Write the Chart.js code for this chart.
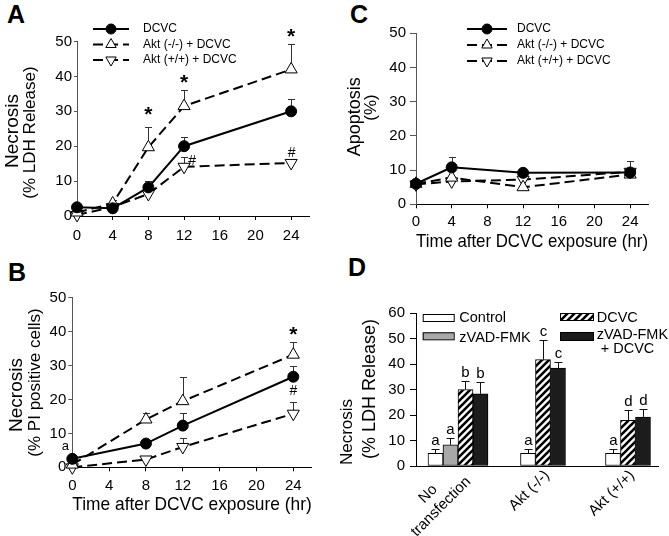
<!DOCTYPE html>
<html>
<head>
<meta charset="utf-8">
<script src="https://cdn.jsdelivr.net/npm/chart.js@4.4.1/dist/chart.umd.min.js"></script>
<style>
body{margin:0;background:#fff;width:669px;height:536px;position:relative;overflow:hidden;font-family:"Liberation Sans",Arial,sans-serif}
canvas{position:absolute}
.lab{position:absolute;font-weight:bold;font-size:25px;line-height:1}
</style>
</head>
<body>
<div class="lab" style="left:7px;top:2px">A</div>
<div class="lab" style="left:8px;top:260px">B</div>
<div class="lab" style="left:350px;top:2px">C</div>
<div class="lab" style="left:348px;top:255px">D</div>
<canvas id="cA" width="330" height="245" style="left:0;top:0"></canvas>
<canvas id="cB" width="330" height="286" style="left:0;top:250px"></canvas>
<canvas id="cC" width="339" height="254" style="left:330px;top:0"></canvas>
<canvas id="cD" width="339" height="286" style="left:330px;top:250px"></canvas>
<script>
// series names
var seriesNames = ['DCVC', 'Akt (-/-) + DCVC', 'Akt (+/+) + DCVC'];
var ticksT = [0, 4, 8, 12, 16, 20, 24];

// A - necrosis, LDH release
var timeA = [0, 4, 8, 12, 24];
var ldhDcvc = [2.5, 2.2, 8.2, 20, 30];
var ldhDcvcErr = [0, 0, 1.8, 2.7, 3.4];
var ldhKo = [1, 3.6, 19.7, 31.5, 42];
var ldhKoErr = [0, 1, 5.9, 4.6, 7.3];
var ldhWt = [0.3, 2.6, 6.3, 14.1, 15.2];
var ldhWtErr = [0, 0, 0, 2.9, 0.5];
var marksA = [[8, 29.9, '*'], [12, 39, '*'], [24, 52.2, '*'], [12.9, 16, '#'], [24.05, 18.4, '#']];

// B - necrosis, PI positive cells
var timeB = [0, 8, 12, 24];
var piDcvc = [2.5, 7, 12.3, 26.7];
var piDcvcErr = [0, 0, 3.8, 3.3];
var piKo = [0.8, 14.1, 19.5, 33.2];
var piKoErr = [0, 2, 7, 3.6];
var piWt = [0, 2.3, 6, 15.8];
var piWtErr = [0, 0, 2.7, 3.4];
var marksB = [[24, 40, '*'], [24, 22.7, '#'], [-0.75, 6.1, 'a']];

// C - apoptosis
var timeC = [0, 4, 12, 24];
var apoDcvc = [6, 10.8, 9.2, 9.3];
var apoDcvcErr = [0, 3, 0, 0];
var apoKo = [6, 7.8, 5, 8.7];
var apoKoErr = [0, 0, 0, 3.9];
var apoWt = [5.8, 6.7, 7.2, 9.5];
var apoWtErr = [0, 0, 0, 0];

// D - bars
var groupsD = [['No', 'transfection'], 'Akt (-/-)', 'Akt (+/+)'];
var seriesD = ['Control', 'zVAD-FMK', 'DCVC', 'zVAD-FMK + DCVC'];
var ctrlD = [5, 5, 5];
var ctrlErrD = [1.7, 1.7, 1.7];
var zvadD = [8.3, null, null];
var zvadErrD = [2.6, 0, 0];
var dcvcD = [30, 41.7, 17.9];
var dcvcErrD = [3.5, 7.6, 3.9];
var bothD = [28.3, 38.4, 19.2];
var bothErrD = [4.8, 2.3, 3.3];
var lettersD = [['a', 'a', 'a'], ['a', '', ''], ['b', 'c', 'd'], ['b', 'c', 'd']];

var FONT = '"Liberation Sans", Arial, sans-serif';
Chart.defaults.font.family = FONT;
Chart.defaults.color = '#000';
Chart.defaults.animation = false;
Chart.defaults.events = [];

function markPath(ctx, style, rot, x, y, r) {
  ctx.beginPath();
  if (style == 'circle') {
    ctx.arc(x, y, r, 0, Math.PI * 2);
  } else {
    var a = rot * Math.PI / 180;
    for (var k = 0; k < 3; k++) {
      var px = x + Math.sin(a) * r, py = y - Math.cos(a) * r;
      if (k == 0) ctx.moveTo(px, py); else ctx.lineTo(px, py);
      a += Math.PI * 2 / 3;
    }
    ctx.closePath();
  }
}

// error bars (and letters above them)
Chart.register({
  id: 'errbars',
  beforeDatasetsDraw: function(chart, args, o) { if (o.err && !o.onTop) drawErr(chart, o); },
  afterDatasetsDraw: function(chart, args, o) { if (o.err && o.onTop) drawErr(chart, o); }
});
function drawErr(chart, o) {
  var ctx = chart.ctx, ys = chart.scales.y;
  ctx.save();
  ctx.strokeStyle = o.color || '#333';
  ctx.lineWidth = 1;
  chart.data.datasets.forEach(function(ds, di) {
    var errs = o.err[di];
    if (!errs) return;
    var meta = chart.getDatasetMeta(di);
    meta.data.forEach(function(el, i) {
      var v = ds.data[i];
      if (v && typeof v == 'object') v = v.y;
      if (v == null) return;
      var e = errs[i];
      var x = Math.round(el.x) + 0.5;
      var y1 = Math.round(ys.getPixelForValue(v + (e || 0))) + 0.5;
      if (e) {
        ctx.beginPath();
        ctx.moveTo(x, el.y); ctx.lineTo(x, y1);
        ctx.moveTo(x - o.cap, y1); ctx.lineTo(x + o.cap, y1);
        ctx.stroke();
      }
      if (o.letters && o.letters[di][i]) {
        ctx.fillStyle = '#000';
        ctx.font = '15px ' + FONT;
        ctx.textAlign = 'center';
        ctx.textBaseline = 'alphabetic';
        ctx.fillText(o.letters[di][i], x, y1 - 5);
      }
    });
  });
  ctx.restore();
}

// star / hash marks at data coordinates
var glyphMid = { '*': 0.45, '#': 0.36, 'a': 0.26 };
Chart.register({
  id: 'marks',
  afterDraw: function(chart, args, o) {
    if (!o.items) return;
    var ctx = chart.ctx, xs = chart.scales.x, ys = chart.scales.y;
    ctx.save();
    ctx.fillStyle = '#000';
    ctx.textAlign = 'center';
    ctx.textBaseline = 'alphabetic';
    o.items.forEach(function(m) {
      var t = m[2];
      var size = t == '*' ? 21 : (t == '#' ? 14 : 13);
      ctx.font = (t == '*' ? 'bold ' : '') + size + 'px ' + FONT;
      ctx.fillText(t, xs.getPixelForValue(m[0]), ys.getPixelForValue(m[1]) + glyphMid[t] * size);
    });
    ctx.restore();
  }
});

// two-line rotated y titles
Chart.register({
  id: 'ytitles',
  afterDraw: function(chart, args, o) {
    if (!o.lines) return;
    var ctx = chart.ctx;
    o.lines.forEach(function(l) {
      ctx.save();
      ctx.translate(l.x, l.y);
      ctx.rotate(-Math.PI / 2);
      ctx.font = l.size + 'px ' + FONT;
      ctx.fillStyle = '#000';
      ctx.textAlign = 'center';
      ctx.textBaseline = 'alphabetic';
      ctx.fillText(l.t, 0, 0);
      ctx.restore();
    });
  }
});

// legend with line + marker samples
Chart.register({
  id: 'keyLines',
  afterDraw: function(chart, args, o) {
    if (!o.rows) return;
    var ctx = chart.ctx;
    chart.data.datasets.forEach(function(ds, i) {
      var y = o.rows[i];
      ctx.save();
      ctx.strokeStyle = '#000';
      ctx.lineWidth = 2;
      ctx.setLineDash(ds.borderDash || []);
      ctx.beginPath(); ctx.moveTo(o.x0, y); ctx.lineTo(o.x1, y); ctx.stroke();
      ctx.setLineDash([]);
      ctx.lineWidth = 1;
      ctx.fillStyle = ds.pointBackgroundColor;
      markPath(ctx, ds.pointStyle, ds.pointRotation || 0, (o.x0 + o.x1) / 2, y, ds.pointStyle == 'circle' ? 5 : 6);
      ctx.fill(); ctx.stroke();
      ctx.font = '12px ' + FONT;
      ctx.fillStyle = '#000';
      ctx.textBaseline = 'middle';
      ctx.fillText(ds.label, o.tx, y);
      ctx.restore();
    });
  }
});

function timeAxis(o) {
  return {
    type: 'linear', min: 0, max: 26,
    afterBuildTicks: function(s) { s.ticks = ticksT.map(function(v) { return { value: v }; }); },
    afterFit: function(s) { s.height = o.xh; },
    grid: { drawOnChartArea: false, tickLength: 4, color: '#000' },
    border: { color: '#000' },
    ticks: { font: { size: 15 }, padding: o.xpad, autoSkip: false, maxRotation: 0 },
    title: { display: !!o.xtitle, text: o.xtitle || '', font: { size: 18.5 }, padding: 0 }
  };
}
function pctAxis(o) {
  return {
    min: 0, max: 50,
    afterFit: function(s) { s.width = o.left; },
    grid: { drawOnChartArea: false, tickLength: o.ytl, color: '#555' },
    border: { color: '#555' },
    ticks: { stepSize: 10, font: { size: 15 }, padding: o.ypad }
  };
}

function timeChart(id, o, times, vals, errs) {
  var looks = [
    { ps: 'circle', rot: 0, dash: [], bg: '#000', r: 5.5 },
    { ps: 'triangle', rot: 0, dash: [10, 5], bg: '#fff', r: 7 },
    { ps: 'triangle', rot: 180, dash: [10, 5], bg: '#fff', r: 7 }
  ];
  var datasets = vals.map(function(v, k) {
    var s = looks[k];
    return {
      label: seriesNames[k],
      data: times.map(function(t, i) { return { x: t, y: v[i] }; }),
      borderColor: '#000', borderWidth: 2, borderDash: s.dash,
      pointStyle: s.ps, pointRotation: s.rot, pointRadius: s.r,
      pointBackgroundColor: s.bg, pointBorderColor: '#000', pointBorderWidth: 1,
      tension: 0, clip: false, fill: false
    };
  });
  var c = document.getElementById(id);
  return new Chart(c, {
    type: 'line',
    data: { datasets: datasets },
    options: {
      responsive: false,
      layout: { padding: { top: o.top, right: c.width - o.right, bottom: c.height - o.bottom - o.xh, left: 0 } },
      scales: { x: timeAxis(o), y: pctAxis(o) },
      plugins: {
        legend: { display: false }, tooltip: { enabled: false },
        errbars: { err: errs, cap: 3.5, color: '#333' },
        marks: { items: o.marks },
        ytitles: { lines: o.titles },
        keyLines: o.key || {}
      }
    }
  });
}

timeChart('cA', { top: 41.5, bottom: 216, right: 309, left: 77, xh: 29, xpad: 7, ytl: 3, ypad: 2,
  marks: marksA, key: { x0: 93, x1: 129, tx: 143, rows: [29, 44.5, 60] },
  titles: [{ t: 'Necrosis', x: 18, y: 131, size: 19 }, { t: '(% LDH Release)', x: 34.7, y: 132.5, size: 17 }] },
  timeA, [ldhDcvc, ldhKo, ldhWt], [ldhDcvcErr, ldhKoErr, ldhWtErr]);

timeChart('cB', { top: 47.7, bottom: 217.3, right: 311.7, left: 72.3, xh: 48.8, xpad: 5.5, ytl: 4, ypad: 2,
  xtitle: 'Time after DCVC exposure (hr)', marks: marksB,
  titles: [{ t: 'Necrosis', x: 21.7, y: 145, size: 19 }, { t: '(% PI positive cells)', x: 39.7, y: 132.5, size: 17 }] },
  timeB, [piDcvc, piKo, piWt], [piDcvcErr, piKoErr, piWtErr]);

timeChart('cC', { top: 33.3, bottom: 204.3, right: 318, left: 86, xh: 48.8, xpad: 4.5, ytl: 6, ypad: 4,
  xtitle: 'Time after DCVC exposure (hr)', key: { x0: 137, x1: 177, tx: 187, rows: [29, 45, 61] },
  titles: [{ t: 'Apoptosis', x: 30, y: 116.7, size: 18 }, { t: '(%)', x: 46, y: 107.5, size: 17 }] },
  timeC, [apoDcvc, apoKo, apoWt], [apoDcvcErr, apoKoErr, apoWtErr]);

// D
function stripes() {
  var p = 7;
  var c = document.createElement('canvas');
  c.width = p; c.height = p;
  var g = c.getContext('2d');
  g.fillStyle = '#fff'; g.fillRect(0, 0, p, p);
  g.strokeStyle = '#000'; g.lineWidth = 2.6;
  g.beginPath();
  g.moveTo(0, p); g.lineTo(p, 0);
  g.moveTo(-1, 1); g.lineTo(1, -1);
  g.moveTo(p - 1, p + 1); g.lineTo(p + 1, p - 1);
  g.stroke();
  return g.createPattern(c, 'repeat');
}
var fillsD = ['#fff', '#a8a8a8', stripes(), '#1c1c1c'];

Chart.register({
  id: 'groupLabels',
  afterDraw: function(chart, args, o) {
    if (!o.names) return;
    var ctx = chart.ctx, xs = chart.scales.x, y0 = chart.chartArea.bottom;
    o.names.forEach(function(g, i) {
      var lines = Array.isArray(g) ? g : [g];
      ctx.save();
      ctx.font = '15px ' + FONT;
      ctx.fillStyle = '#000';
      var w = 0;
      lines.forEach(function(l) { w = Math.max(w, ctx.measureText(l).width); });
      ctx.translate(xs.getPixelForValue(i) + o.dx, y0 + o.dy);
      ctx.rotate(-Math.PI / 4);
      ctx.textAlign = 'center';
      ctx.textBaseline = 'middle';
      lines.forEach(function(l, k) { ctx.fillText(l, -w / 2, (k - (lines.length - 1) / 2) * o.lh); });
      ctx.restore();
    });
  }
});

Chart.register({
  id: 'boxKey',
  afterDraw: function(chart, args, o) {
    if (!o.items) return;
    var ctx = chart.ctx;
    o.items.forEach(function(it, i) {
      var ds = chart.data.datasets[i];
      ctx.save();
      ctx.fillStyle = ds.backgroundColor;
      ctx.fillRect(it.x, it.y, it.w, it.h);
      ctx.strokeStyle = '#000'; ctx.lineWidth = 1;
      ctx.strokeRect(it.x + 0.5, it.y + 0.5, it.w, it.h);
      ctx.fillStyle = '#000';
      ctx.font = '14.5px ' + FONT;
      ctx.textBaseline = 'middle';
      var lines = ds.label.replace(' + ', '\n + ').split('\n');
      lines.forEach(function(l, k) { ctx.fillText(l, it.tx, it.ty + k * 13.5); });
      ctx.restore();
    });
  }
});

new Chart(document.getElementById('cD'), {
  type: 'bar',
  data: {
    labels: groupsD.map(function(g, i) { return i; }),
    datasets: [ctrlD, zvadD, dcvcD, bothD].map(function(v, k) {
      return { label: seriesD[k], data: v, backgroundColor: fillsD[k], borderColor: '#000', borderWidth: 1 };
    })
  },
  options: {
    responsive: false,
    layout: { padding: { top: 63, right: 11, bottom: 0, left: 0 } },
    datasets: { bar: { barThickness: 15, skipNull: true, borderSkipped: false } },
    scales: {
      x: { type: 'linear', offset: false, min: -0.494, max: 2.353,
        afterFit: function(s) { s.height = 70; },
        grid: { display: false }, ticks: { display: false }, border: { color: '#000' } },
      y: { min: 0, max: 60,
        afterFit: function(s) { s.width = 86; },
        grid: { drawOnChartArea: false, tickLength: 6, color: '#000' }, border: { color: '#000' },
        ticks: { stepSize: 10, font: { size: 15 }, padding: 5 } }
    },
    plugins: {
      legend: { display: false }, tooltip: { enabled: false },
      errbars: { err: [ctrlErrD, zvadErrD, dcvcErrD, bothErrD], letters: lettersD, onTop: true, cap: 4, color: '#111' },
      groupLabels: { names: groupsD, dx: 4, dy: 7, lh: 18 },
      boxKey: { items: [
        { x: 92.7, y: 64, w: 31, h: 7, tx: 129.3, ty: 67.5 },
        { x: 92.7, y: 82.3, w: 31, h: 7, tx: 129.3, ty: 88 },
        { x: 230, y: 63, w: 33, h: 7, tx: 266.7, ty: 68 },
        { x: 230, y: 82, w: 33, h: 8, tx: 266.7, ty: 85 }
      ] },
      ytitles: { lines: [{ t: 'Necrosis', x: 22.2, y: 182, size: 17 }, { t: '(% LDH Release)', x: 44.5, y: 139, size: 18 }] }
    }
  }
});
</script>
</body>
</html>
